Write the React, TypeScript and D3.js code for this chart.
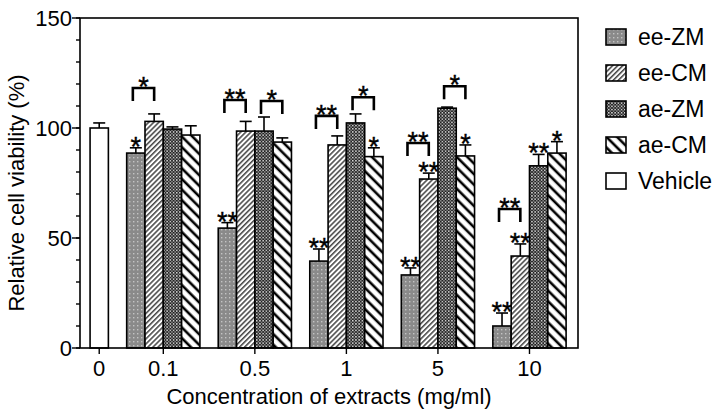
import React from "react";
import * as d3 from "d3";

// ---- data ----
const groups = ["0.1", "0.5", "1", "5", "10"];
const seriesNames = ["ee-ZM", "ee-CM", "ae-ZM", "ae-CM"];
const eeZM = [88.6, 54.5, 39.5, 33.2, 10.0];
const eeCM = [103.0, 98.6, 92.3, 76.8, 41.8];
const aeZM = [99.5, 98.6, 102.3, 109.0, 82.8];
const aeCM = [96.8, 93.6, 87.0, 87.3, 88.6];
const eeZMErr = [2.4, 2.5, 5.5, 3.2, 5.9];
const eeCMErr = [3.4, 4.4, 4.1, 2.7, 5.5];
const aeZMErr = [1.0, 6.4, 4.1, 0.5, 5.2];
const aeCMErr = [4.2, 1.9, 4.0, 5.0, 5.2];
const eeZMStars = ["*", "**", "**", "**", "**"];
const eeCMStars = ["", "", "", "**", "**"];
const aeZMStars = ["", "", "", "", "**"];
const aeCMStars = ["", "", "*", "*", "*"];
const vehicleLabel = "0";
const vehicleValue = 100;
const vehicleErr = 2.3;
// brackets: group index, from series, to series, label, level (y value)
const bracketGroup = [0, 1, 1, 2, 2, 3, 3, 4];
const bracketFrom = [0, 0, 2, 0, 2, 0, 2, 0];
const bracketTo = [1, 1, 3, 1, 3, 1, 3, 1];
const bracketLabel = ["*", "**", "*", "**", "*", "**", "*", "**"];
const bracketLevel = [118.2, 112.7, 112.3, 105.5, 114.0, 93.2, 119.0, 63.2];
const yMajorTicks = [0, 50, 100, 150];
const yMinorTicks = d3.range(0, 151, 10);
const xTitle = "Concentration of extracts (mg/ml)";
const yTitle = "Relative cell viability (%)";

const values = [eeZM, eeCM, aeZM, aeCM];
const errs = [eeZMErr, eeCMErr, aeZMErr, aeCMErr];
const stars = [eeZMStars, eeCMStars, aeZMStars, aeCMStars];
const fills = ["url(#pDots)", "url(#pFine)", "url(#pChk)", "url(#pWide)"];

const W = 724;
const H = 418;
const plot = { left: 80, right: 578, top: 18, bottom: 348 };
const FONT = "'Liberation Sans', Arial, sans-serif";

export default function App() {
  // slot layout: vehicle at slot 0, then each group of 4 bars preceded by a gap slot
  const x = d3.scaleLinear().domain([-0.55, 26.65]).range([plot.left, plot.right]);
  const y = d3.scaleLinear().domain([0, 150]).range([plot.bottom, plot.top]);
  const bw = x(1) - x(0);
  const slotOf = (g: number, s: number) => 2 + g * 5 + s;

  const bars: any[] = [];
  bars.push({ slot: 0, v: vehicleValue, e: vehicleErr, fill: "#fff", star: "" });
  groups.forEach((_, g) =>
    seriesNames.forEach((_, s) =>
      bars.push({ slot: slotOf(g, s), v: values[s][g], e: errs[s][g], fill: fills[s], star: stars[s][g] })
    )
  );

  const tickPos = [{ label: vehicleLabel, xp: x(0.5) }].concat(
    groups.map((gname, g) => ({ label: gname, xp: x(slotOf(g, 2)) }))
  );

  const legendItems = seriesNames.map((n, i) => ({ name: n, fill: fills[i] })).concat([{ name: "Vehicle", fill: "#fff" }]);

  const starText = (cx: number, cy: number, txt: string, key: string) => (
    <text key={key} x={cx} y={cy + 16} textAnchor="middle" fontSize={27} fontFamily={FONT} fill="#000" stroke="#000" strokeWidth={0.4}>
      {txt}
    </text>
  );

  return (
    <svg width={W} height={H} style={{ position: "absolute", left: 0, top: 0, background: "#fff" }}>
      <defs>
        <pattern id="pDots" width="4" height="4" patternUnits="userSpaceOnUse">
          <rect width="4" height="4" fill="#8a8a8a" />
          <rect x="1" y="1" width="1.4" height="1.4" fill="#c4c4c4" />
        </pattern>
        <pattern id="pFine" width="3.6" height="3.6" patternUnits="userSpaceOnUse" patternTransform="rotate(45)">
          <rect width="3.6" height="3.6" fill="#fff" />
          <line x1="0.8" y1="0" x2="0.8" y2="3.6" stroke="#222" strokeWidth="1.3" />
        </pattern>
        <pattern id="pChk" width="3.2" height="3.2" patternUnits="userSpaceOnUse">
          <rect width="3.2" height="3.2" fill="#222" />
          <rect x="0" y="0" width="1.5" height="1.5" fill="#d8d8d8" />
          <rect x="1.6" y="1.6" width="1.5" height="1.5" fill="#8a8a8a" />
        </pattern>
        <pattern id="pWide" width="7.5" height="7.5" patternUnits="userSpaceOnUse" patternTransform="rotate(-45)">
          <rect width="7.5" height="7.5" fill="#fff" />
          <line x1="2" y1="0" x2="2" y2="7.5" stroke="#000" strokeWidth="2.6" />
        </pattern>
      </defs>

      {/* bars */}
      {bars.map((b, i) => (
        <g key={"b" + i}>
          <rect x={x(b.slot)} y={y(b.v)} width={bw} height={y(0) - y(b.v)} fill={b.fill} stroke="#000" strokeWidth={1.6} />
          <line x1={x(b.slot) + bw / 2} x2={x(b.slot) + bw / 2} y1={y(b.v)} y2={y(b.v + b.e)} stroke="#000" strokeWidth={1.6} />
          <line x1={x(b.slot) + bw / 2 - 6} x2={x(b.slot) + bw / 2 + 6} y1={y(b.v + b.e)} y2={y(b.v + b.e)} stroke="#000" strokeWidth={1.6} />
          {b.star ? starText(x(b.slot) + bw / 2, y(b.v + b.e) - 8, b.star, "s" + i) : null}
        </g>
      ))}

      {/* brackets */}
      {bracketGroup.map((g, i) => {
        const x1 = x(slotOf(g, bracketFrom[i])) + bw / 2 - 3;
        const x2 = x(slotOf(g, bracketTo[i])) + bw / 2;
        const yt = y(bracketLevel[i]);
        return (
          <g key={"br" + i}>
            <path d={`M${x1},${yt + 13}V${yt}H${x2}V${yt + 13}`} fill="none" stroke="#000" strokeWidth={2.6} />
            {starText((x1 + x2) / 2, yt - 8, bracketLabel[i], "bs" + i)}
          </g>
        );
      })}

      {/* frame */}
      <rect x={plot.left} y={plot.top} width={plot.right - plot.left} height={plot.bottom - plot.top} fill="none" stroke="#000" strokeWidth={1.6} />

      {/* y axis ticks */}
      {yMinorTicks.map((t) => (
        <line key={"ym" + t} x1={plot.left - 4} x2={plot.left} y1={y(t)} y2={y(t)} stroke="#000" strokeWidth={1.4} />
      ))}
      {yMajorTicks.map((t) => (
        <g key={"yM" + t}>
          <line x1={plot.left - 8} x2={plot.left} y1={y(t)} y2={y(t)} stroke="#000" strokeWidth={1.4} />
          <text x={plot.left - 8} y={y(t) + 8} textAnchor="end" fontSize={22} fontFamily={FONT} fill="#000">
            {t}
          </text>
        </g>
      ))}

      {/* x axis ticks */}
      {tickPos.map((t, i) => (
        <g key={"xt" + i}>
          <line x1={t.xp} x2={t.xp} y1={plot.bottom} y2={plot.bottom + 6} stroke="#000" strokeWidth={1.4} />
          <text x={t.xp} y={376} textAnchor="middle" fontSize={22} fontFamily={FONT} fill="#000">
            {t.label}
          </text>
        </g>
      ))}

      {/* axis titles */}
      <text x={(plot.left + plot.right) / 2} y={404} textAnchor="middle" fontSize={22} fontFamily={FONT} fill="#000">
        {xTitle}
      </text>
      <text
        transform={`translate(24,${(plot.top + plot.bottom) / 2 + 10}) rotate(-90)`}
        textAnchor="middle"
        fontSize={22}
        fontFamily={FONT}
        fill="#000"
      >
        {yTitle}
      </text>

      {/* legend */}
      {legendItems.map((it, i) => {
        const cy = 37 + i * 36;
        return (
          <g key={"lg" + i}>
            <rect x={606} y={cy - 8} width={20} height={16} fill={it.fill} stroke="#000" strokeWidth={1.6} />
            <text x={638} y={cy + 8} fontSize={23} fontFamily={FONT} fill="#000">
              {it.name}
            </text>
          </g>
        );
      })}
    </svg>
  );
}
